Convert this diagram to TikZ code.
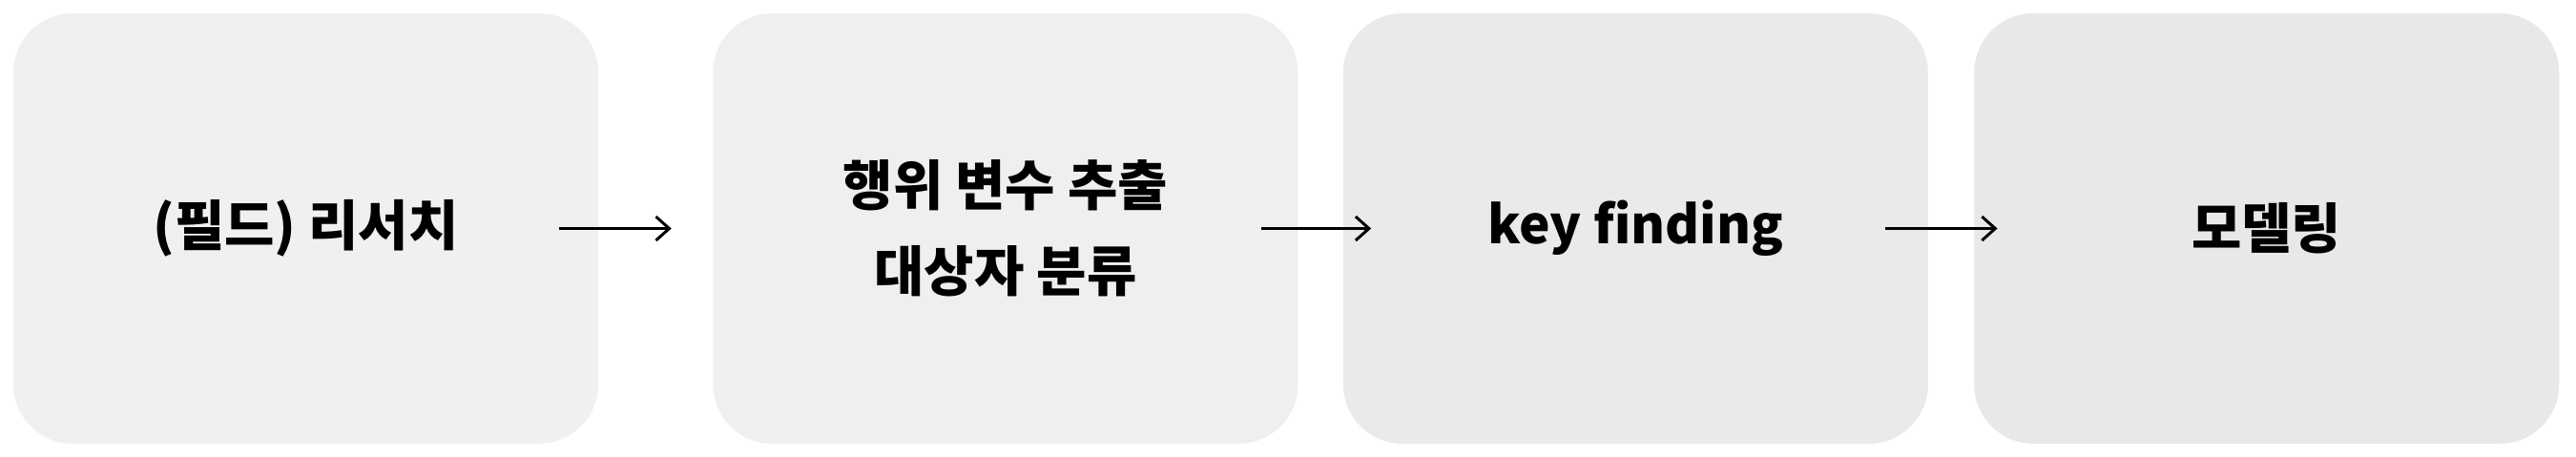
\documentclass[tikz,border=0pt]{standalone}
\usepackage{fontspec}
\setmainfont{Noto Sans CJK KR}
\usepackage{tikz}
\usetikzlibrary{arrows.meta,positioning}
\definecolor{stageA}{HTML}{F0F0F0}
\definecolor{stageB}{HTML}{EFEFEF}
\definecolor{stageC}{HTML}{EAEAEA}
\definecolor{stageD}{HTML}{E8E8E8}
\tikzset{
  stagebox/.style = {rounded corners=0.62cm, inner sep=0pt,
                     minimum width=6.13cm, minimum height=4.51cm,
                     align=center, text=black,
                     font=\bfseries\fontsize{16.2}{25.6}\selectfont},
  flowar/.style   = {-{Straight Barb[length=1.4mm,width=2.5mm]}, black, line width=0.85pt}
}

\begin{document}
\begin{tikzpicture}
  \useasboundingbox (0,0) rectangle (27,4.78);
  \node[stagebox,fill=stageA] (research) at (3.205,2.385) {(필드) 리서치};
  \node[stagebox,fill=stageB,right=1.19cm of research] (extract) {행위 변수 추출\\대상자 분류};
  \node[stagebox,fill=stageC,right=0.46cm of extract] (finding) {\fontsize{15.6}{25.6}\selectfont key finding};
  \node[stagebox,fill=stageD,right=0.47cm of finding] (model) {모델링};
  \draw[flowar] ([xshift=-0.42cm]research.east) -- ([xshift=-0.43cm]extract.west);
  \draw[flowar] ([xshift=-0.39cm]extract.east)  -- ([xshift=0.30cm]finding.west);
  \draw[flowar] ([xshift=-0.46cm]finding.east)  -- ([xshift=0.25cm]model.west);
\end{tikzpicture}
\end{document}
